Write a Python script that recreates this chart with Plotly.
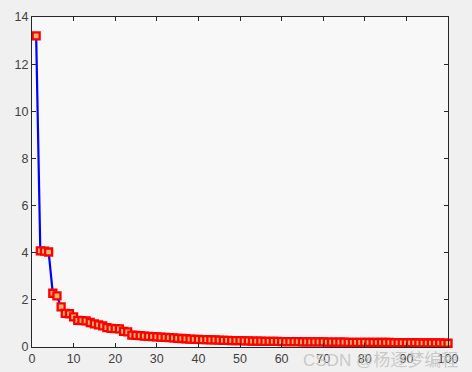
import plotly.graph_objects as go

x_vals = list(range(1, 101))
y_vals = [
    13.2, 4.08, 4.07, 4.03, 2.28, 2.17, 1.70, 1.43, 1.41, 1.28,
    1.13, 1.12, 1.11, 1.04, 0.98, 0.94, 0.90, 0.82, 0.79, 0.78,
    0.77, 0.66, 0.64, 0.50, 0.49, 0.48, 0.46, 0.45, 0.44, 0.43,
    0.42, 0.41, 0.40, 0.39, 0.37, 0.36, 0.35, 0.33, 0.32, 0.32,
    0.31, 0.31, 0.30, 0.30, 0.29, 0.28, 0.28, 0.27, 0.27, 0.27,
    0.26, 0.26, 0.25, 0.25, 0.25, 0.24, 0.24, 0.24, 0.24, 0.23,
    0.23, 0.23, 0.23, 0.23, 0.22, 0.22, 0.22, 0.22, 0.22, 0.22,
    0.21, 0.21, 0.21, 0.21, 0.21, 0.20, 0.20, 0.20, 0.20, 0.20,
    0.19, 0.19, 0.19, 0.19, 0.19, 0.19, 0.18, 0.18, 0.18, 0.18,
    0.18, 0.18, 0.17, 0.17, 0.17, 0.17, 0.17, 0.17, 0.16, 0.16,
]
x_ticks = [0, 10, 20, 30, 40, 50, 60, 70, 80, 90, 100]
y_ticks = [0, 2, 4, 6, 8, 10, 12, 14]
watermark = "CSDN @杨逐梦编程"

fig = go.Figure()
fig.add_trace(go.Scatter(
    x=x_vals, y=y_vals, mode="lines+markers",
    line=dict(color="#0000ff", width=2.2),
    marker=dict(symbol="square", size=7, color="#f2b66a",
                line=dict(color="#ff0000", width=2.3)),
    cliponaxis=False, showlegend=False,
))

axis_common = dict(
    showgrid=False, zeroline=False, showline=True, linecolor="#262626",
    linewidth=1, mirror="ticks", ticks="inside", ticklen=4, automargin=False,
    tickcolor="#262626", tickfont=dict(family="Liberation Sans, Arial", size=12.5, color="#404040"),
)
fig.update_xaxes(range=[0, 100], tickvals=x_ticks, **axis_common)
fig.update_yaxes(range=[0, 14], tickvals=y_ticks, **axis_common)

fig.add_annotation(
    text=watermark, xref="paper", yref="paper", x=1.03, y=-0.005,
    xanchor="right", yanchor="top", showarrow=False,
    font=dict(family="Liberation Sans, Noto Sans CJK SC", size=17, color="rgba(190,190,190,0.8)"),
)

fig.update_layout(
    width=472, height=372,
    margin=dict(l=32, r=24, t=17, b=25),
    paper_bgcolor="#f0f0f0", plot_bgcolor="#f8f8f8",
)
fig.write_html("out.html")
